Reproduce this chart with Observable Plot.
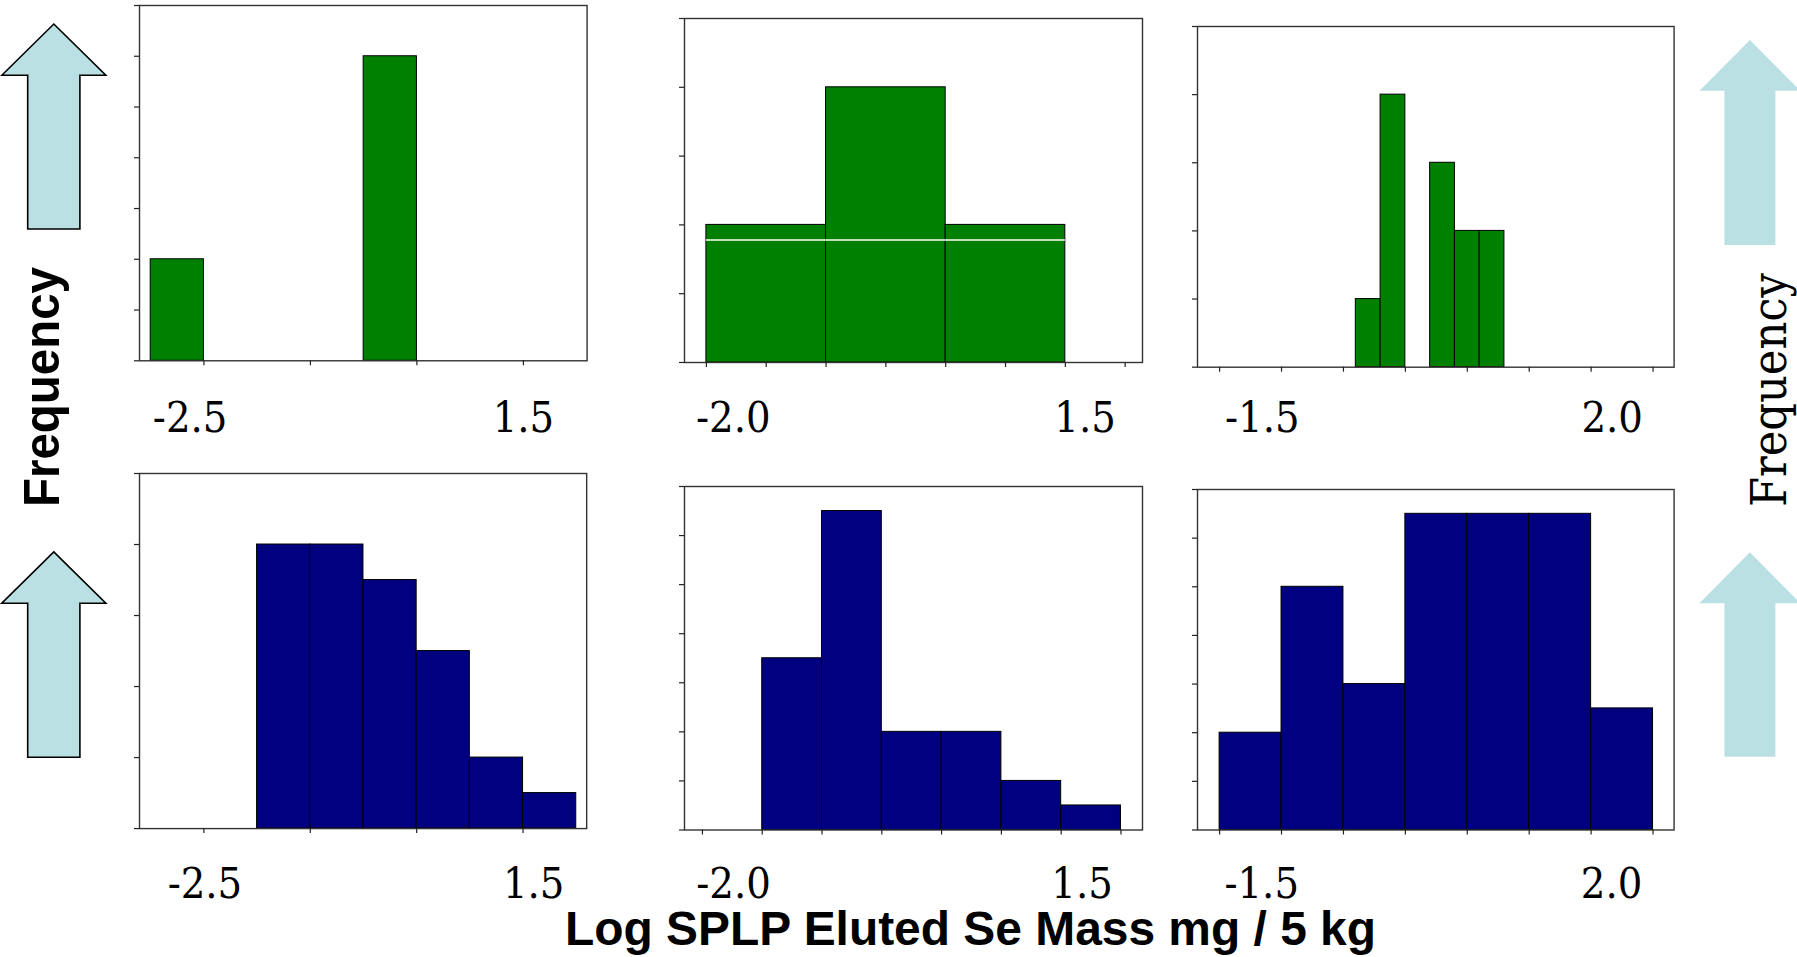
<!DOCTYPE html>
<html>
<head>
<meta charset="utf-8">
<script src="https://cdn.jsdelivr.net/npm/d3@7"></script>
<script src="https://cdn.jsdelivr.net/npm/@observablehq/plot@0.6"></script>
<style>
  html, body { margin: 0; padding: 0; background: #fff; }
  #stage { position: relative; width: 1797px; height: 957px; overflow: hidden; }
  #stage svg { position: absolute; }
  .plotp text { font-stretch: condensed; }
</style>
</head>
<body>
<div id="stage"></div>
<script>
// ---------- data (x in axis-tick units, y in counts) ----------
// Top row (green)
const p1BinStart = [-0.5, 1.5];
const p1BinEnd   = [0, 2];
const p1Counts   = [2, 6];
const p1XTicks   = [0, 1, 2, 3];
const p1YTicks   = [0, 1, 2, 3, 4, 5, 6, 7];
const p1Labels   = ["-2.5", "1.5"];
const p1LabelAt  = [-0.13, 3.0];

const p2BinStart = [0, 2, 4];
const p2BinEnd   = [2, 4, 6];
const p2Counts   = [2, 4, 2];
const p2WhiteLine = [1.78];
const p2XTicks   = [0, 1, 2, 3, 4, 5, 6, 7];
const p2YTicks   = [0, 1, 2, 3, 4, 5];
const p2Labels   = ["-2.0", "1.5"];
const p2LabelAt  = [0.45, 6.33];

const p3BinStart = [2.2, 2.6, 3.4, 3.8, 4.2];
const p3BinEnd   = [2.6, 3.0, 3.8, 4.2, 4.6];
const p3Counts   = [1, 4, 3, 2, 2];
const p3XTicks   = [0, 1, 2, 3, 4, 5, 6, 7];
const p3YTicks   = [0, 1, 2, 3, 4, 5];
const p3Labels   = ["-1.5", "2.0"];
const p3LabelAt  = [0.69, 6.34];

// Bottom row (navy)
const p4BinStart = [0.5, 1, 1.5, 2, 2.5, 3];
const p4BinEnd   = [1, 1.5, 2, 2.5, 3, 3.5];
const p4Counts   = [8, 8, 7, 5, 2, 1];
const p4XTicks   = [0, 1, 2, 3];
const p4YTicks   = [0, 2, 4, 6, 8, 10];
const p4Labels   = ["-2.5", "1.5"];
const p4LabelAt  = [0.01, 3.1];

const p5BinStart = [1, 2, 3, 4, 5, 6];
const p5BinEnd   = [2, 3, 4, 5, 6, 7];
const p5Counts   = [7, 13, 4, 4, 2, 1];
const p5XTicks   = [0, 1, 2, 3, 4, 5, 6, 7];
const p5YTicks   = [0, 2, 4, 6, 8, 10, 12, 14];
const p5Labels   = ["-2.0", "1.5"];
const p5LabelAt  = [0.52, 6.35];

const p6BinStart = [0, 1, 2, 3, 4, 5, 6];
const p6BinEnd   = [1, 2, 3, 4, 5, 6, 7];
const p6Counts   = [4, 10, 6, 13, 13, 13, 5];
const p6XTicks   = [0, 1, 2, 3, 4, 5, 6, 7];
const p6YTicks   = [0, 2, 4, 6, 8, 10, 12, 14];
const p6Labels   = ["-1.5", "2.0"];
const p6LabelAt  = [0.68, 6.33];

const yAxisTitle = "Frequency";
const xAxisTitle = "Log SPLP Eluted Se Mass mg / 5 kg";

// ---------- drawing ----------
const stage = document.getElementById("stage");
const NS = "http://www.w3.org/2000/svg";

// decorative overlay: arrows + titles
const deco = document.createElementNS(NS, "svg");
deco.setAttribute("width", 1797);
deco.setAttribute("height", 957);
deco.style.left = "0px"; deco.style.top = "0px";
function arrow(tipX, tipY, headY, headHalf, shaftHalf, bottomY, stroke) {
  const p = document.createElementNS(NS, "polygon");
  const pts = [[tipX, tipY], [tipX + headHalf, headY], [tipX + shaftHalf, headY], [tipX + shaftHalf, bottomY],
               [tipX - shaftHalf, bottomY], [tipX - shaftHalf, headY], [tipX - headHalf, headY]];
  p.setAttribute("points", pts.map(d => d.join(",")).join(" "));
  p.setAttribute("fill", "#BBE0E3");
  if (stroke) { p.setAttribute("stroke", "#000"); p.setAttribute("stroke-width", "1.6"); p.setAttribute("stroke-linejoin", "miter"); }
  deco.appendChild(p);
}
arrow(53.8, 24, 75.3, 52, 26.1, 229, true);
arrow(53.8, 551.9, 603.2, 52, 26.1, 757.3, true);
arrow(1749.9, 40, 90.7, 50.4, 25.5, 245, false);
arrow(1749.9, 552.2, 603.2, 50.4, 25.5, 756.7, false);

function label(txt, x, y, rot, opts) {
  const t = document.createElementNS(NS, "text");
  t.textContent = txt;
  t.setAttribute("transform", `translate(${x},${y}) rotate(${rot})`);
  t.setAttribute("text-anchor", "middle");
  t.setAttribute("font-family", opts.family);
  t.setAttribute("font-size", opts.size);
  if (opts.weight) t.setAttribute("font-weight", opts.weight);
  if (opts.length) { t.setAttribute("textLength", opts.length); t.setAttribute("lengthAdjust", "spacingAndGlyphs"); }
  t.setAttribute("fill", "#000");
  deco.appendChild(t);
}
label(yAxisTitle, 59.3, 387, -90, {family: "'Liberation Sans', Arial, sans-serif", size: 50, weight: "bold", length: 240});
label(yAxisTitle, 1786, 390, -90, {family: "'DejaVu Serif', serif", size: 48, length: 234});
label(xAxisTitle, 970.5, 945, 0, {family: "'Liberation Sans', Arial, sans-serif", size: 48, weight: "bold", length: 811});
stage.appendChild(deco);

function panel(cfg) {
  const ml = 14, mr = 6, mt = 6, mb = 95;
  const W = cfg.right - cfg.left, H = cfg.bottom - cfg.top;
  const bins = cfg.counts.map((c, i) => ({x1: cfg.binStart[i], x2: cfg.binEnd[i], n: c}));
  const marks = [
    Plot.rect(bins, {x1: "x1", x2: "x2", y1: 0, y2: "n", fill: cfg.fill, stroke: "#000", strokeWidth: 1}),
    ...(cfg.extra || []),
    Plot.frame({stroke: "#333", strokeWidth: 1.4}),
    Plot.axisX({ticks: cfg.xTicks, tickSize: 5, tickFormat: () => "", label: null, stroke: "#222", strokeWidth: 1.2}),
    Plot.axisY({ticks: cfg.yTicks, tickSize: 5, tickFormat: () => "", label: null, stroke: "#222", strokeWidth: 1.2}),
    Plot.text(cfg.labels, {
      x: (d, i) => cfg.labelAt[i], text: d => d,
      frameAnchor: "bottom", lineAnchor: "bottom", dy: cfg.baseline - cfg.bottom,
      fontFamily: "'DejaVu Serif Condensed', 'DejaVu Serif', serif", fontSize: 43, fill: "#000"
    })
  ];
  const svg = Plot.plot({
    width: W + ml + mr, height: H + mt + mb,
    marginLeft: ml, marginRight: mr, marginTop: mt, marginBottom: mb,
    style: {background: "transparent", overflow: "visible", maxWidth: "none"},
    x: {domain: cfg.xDomain},
    y: {domain: cfg.yDomain},
    marks
  });
  svg.classList.add("plotp");
  svg.style.left = (cfg.left - ml) + "px";
  svg.style.top = (cfg.top - mt) + "px";
  stage.appendChild(svg);
}

const GREEN = "#008000", NAVY = "#000080";

panel({left: 138.8, right: 586.4, top: 5, bottom: 360.3, baseline: 431.7,
  xDomain: [-0.605, 3.598], yDomain: [0, 7], xTicks: p1XTicks, yTicks: p1YTicks,
  binStart: p1BinStart, binEnd: p1BinEnd, counts: p1Counts, labels: p1Labels, labelAt: p1LabelAt, fill: GREEN});
panel({left: 683.6, right: 1141.6, top: 18.3, bottom: 362.3, baseline: 431.7,
  xDomain: [-0.366, 7.29], yDomain: [0, 5], xTicks: p2XTicks, yTicks: p2YTicks,
  binStart: p2BinStart, binEnd: p2BinEnd, counts: p2Counts, labels: p2Labels, labelAt: p2LabelAt, fill: GREEN,
  extra: [Plot.ruleY(p2WhiteLine, {x1: p2BinStart[0], x2: p2BinEnd[p2BinEnd.length - 1], stroke: "#fff", strokeWidth: 1.5})]});
panel({left: 1196.5, right: 1673.1, top: 26.3, bottom: 367, baseline: 431.7,
  xDomain: [-0.357, 7.34], yDomain: [0, 5], xTicks: p3XTicks, yTicks: p3YTicks,
  binStart: p3BinStart, binEnd: p3BinEnd, counts: p3Counts, labels: p3Labels, labelAt: p3LabelAt, fill: GREEN});
panel({left: 139.2, right: 586.4, top: 473.1, bottom: 828.2, baseline: 897.5,
  xDomain: [-0.605, 3.598], yDomain: [0, 10], xTicks: p4XTicks, yTicks: p4YTicks,
  binStart: p4BinStart, binEnd: p4BinEnd, counts: p4Counts, labels: p4Labels, labelAt: p4LabelAt, fill: NAVY});
panel({left: 683.6, right: 1141.6, top: 485.8, bottom: 829.3, baseline: 897.5,
  xDomain: [-0.30, 7.36], yDomain: [0, 14], xTicks: p5XTicks, yTicks: p5YTicks,
  binStart: p5BinStart, binEnd: p5BinEnd, counts: p5Counts, labels: p5Labels, labelAt: p5LabelAt, fill: NAVY});
panel({left: 1196.5, right: 1673.1, top: 488.8, bottom: 829.3, baseline: 897.5,
  xDomain: [-0.357, 7.34], yDomain: [0, 14], xTicks: p6XTicks, yTicks: p6YTicks,
  binStart: p6BinStart, binEnd: p6BinEnd, counts: p6Counts, labels: p6Labels, labelAt: p6LabelAt, fill: NAVY});
</script>
</body>
</html>
